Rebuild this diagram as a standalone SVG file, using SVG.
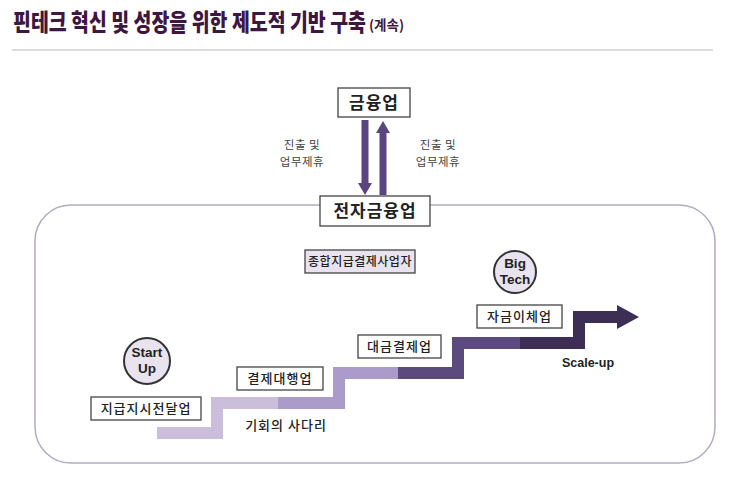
<svg xmlns="http://www.w3.org/2000/svg" width="745" height="482" viewBox="0 0 745 482">
<style>
.t{font-family:"Noto Sans CJK KR","Noto Sans",sans-serif;fill:#222}
.box{fill:#fff;stroke:#444;stroke-width:1.3}
.lbox{fill:#e9e2ef;stroke:#444;stroke-width:1.3}
.lbl{font-size:13px;font-weight:500;text-anchor:middle;letter-spacing:1px}
.big{font-size:17px;font-weight:700;text-anchor:middle;letter-spacing:1px}
.note{font-size:11.5px;fill:#444;text-anchor:middle;letter-spacing:0.5px}
.circ{fill:#e9e2ef;stroke:#333;stroke-width:2}
.en{font-family:"Liberation Sans",Arial,sans-serif;font-weight:700;font-size:13.5px;text-anchor:middle;fill:#222}
</style>
<rect width="745" height="482" fill="#fff"/>
<g id="title">
<g transform="translate(13,31) scale(0.81,1)">
<text class="t" x="0" y="0" font-size="24" font-weight="900" style="fill:#3e1641">핀테크 혁신 및 성장을 위한 제도적 기반 구축</text>
</g>
<text class="t" x="369" y="30" font-size="13.5" font-weight="700" style="fill:#3e1641">(계속)</text>
<line x1="12" y1="50" x2="713" y2="50" stroke="#cfcfcf" stroke-width="1.5"/>
</g>
<g id="container">
<rect x="35" y="205" width="680" height="258" rx="36" ry="36" fill="none" stroke="#b3aac2" stroke-width="1.5"/>
</g>
<g id="connectors">
<path d="M361.5 120 V183 H358 L365 195 L372 183 H368.5 V120 Z" fill="#5b4580"/>
<path d="M379.5 195 V133 H376 L383 121 L390 133 H386.5 V195 Z" fill="#5b4580"/>
<text class="t note" x="302" y="149">진출 및</text>
<text class="t note" x="302" y="166">업무제휴</text>
<text class="t note" x="438" y="149">진출 및</text>
<text class="t note" x="438" y="166">업무제휴</text>
</g>
<g id="ladder" fill="none" stroke-width="12">
<path d="M157 433 H217 V403 H279" stroke="#cbbedb"/>
<path d="M278 403 H339 V373 H399" stroke="#ab9bca"/>
<path d="M398 373 H458 V343 H521" stroke="#5b4a7e"/>
<path d="M520 343 H579 V317 H620" stroke="#3c2e55"/>
<polygon points="617,305 639,317 617,329" fill="#3c2e55" stroke="none"/>
<text class="t" x="286" y="430" font-size="13" font-weight="500" text-anchor="middle" stroke="none" letter-spacing="1">기회의 사다리</text>
<text x="588" y="367" font-family="Liberation Sans,Arial,sans-serif" font-size="12.5" font-weight="700" fill="#222" text-anchor="middle" stroke="none">Scale-up</text>
</g>
<g id="n-finance">
<rect class="box" x="338" y="88" width="72" height="29"/>
<text class="t big" x="374" y="109">금융업</text>
</g>
<g id="n-efinance">
<rect class="box" x="320" y="196" width="110" height="30"/>
<text class="t big" x="375" y="217">전자금융업</text>
</g>
<g id="n-total">
<rect class="lbox" x="305" y="250" width="110" height="23"/>
<text class="t lbl" x="360" y="266" style="font-size:12px;letter-spacing:0.5px">종합지급결제사업자</text>
</g>
<g id="n-bigtech">
<circle class="circ" cx="515" cy="272" r="21"/>
<text class="en" x="515" y="268">Big</text>
<text class="en" x="515" y="284">Tech</text>
</g>
<g id="n-startup">
<circle class="circ" cx="147" cy="361" r="23"/>
<text class="en" x="147" y="357">Start</text>
<text class="en" x="147" y="373">Up</text>
</g>
<g id="n-remit">
<rect class="box" x="91" y="397" width="110" height="23"/>
<text class="t lbl" x="146" y="413">지급지시전달업</text>
</g>
<g id="n-pg">
<rect class="box" x="237" y="367" width="86" height="23"/>
<text class="t lbl" x="280" y="383">결제대행업</text>
</g>
<g id="n-settle">
<rect class="box" x="358" y="335" width="83" height="23"/>
<text class="t lbl" x="399.5" y="351">대금결제업</text>
</g>
<g id="n-transfer">
<rect class="box" x="477" y="305" width="85" height="23"/>
<text class="t lbl" x="519.5" y="321">자금이체업</text>
</g>
</svg>
